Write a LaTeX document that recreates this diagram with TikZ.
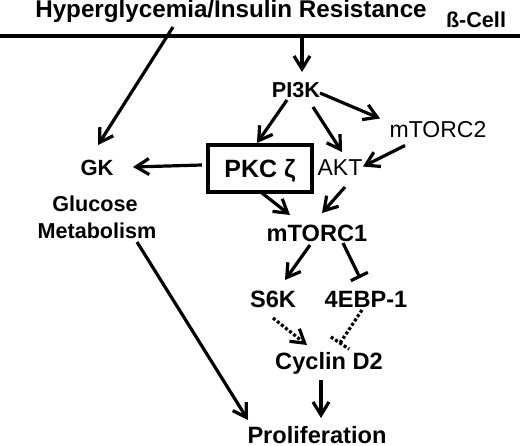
\documentclass[tikz,border=0pt]{standalone}
\usepackage{fontspec}
\setmainfont{Liberation Sans}
\usetikzlibrary{arrows.meta,calc}
\begin{document}
\begin{tikzpicture}[x=1pt,y=-1pt,
  lw/.style={line width=3.2pt},
  tip/.style={-{Straight Barb[length=13pt,width=16pt]}},
  arr/.style={lw,tip},
  inh/.style={lw,-{Bar[width=19pt]}},
  dots/.style={lw,dash pattern=on 3pt off 2.2pt},
  lab/.style={inner sep=0pt,text depth=0pt},
  tt/.style={lab,font=\fontsize{24.2}{24.2}\selectfont\bfseries,text height=17.3pt},
  b21/.style={lab,font=\fontsize{21.6}{21.6}\selectfont\bfseries,text height=15.5pt},
  b22/.style={lab,font=\fontsize{22}{22}\selectfont\bfseries,text height=15.8pt},
  b23/.style={lab,font=\fontsize{23.6}{23.6}\selectfont\bfseries,text height=16.9pt},
  b25/.style={lab,font=\fontsize{25}{25}\selectfont\bfseries,text height=17.5pt},
  r23/.style={lab,font=\fontsize{23}{23}\selectfont,text height=16.5pt},
  boxed/.style={draw,line width=3.5pt,minimum width=104pt,minimum height=47pt}
]
\useasboundingbox (0,0) rectangle (520,445);
\fill[white] (0,0) rectangle (520,445);

% nodes
\node[tt] (title) at (231,8.5) {Hyperglycemia/Insulin Resistance};
\node[b21] (cell) at (476,20) {ß-Cell};
\draw[line width=4.5pt] (0,36) coordinate (mL) -- (520,36) coordinate (mR);
\coordinate (m1) at (302,36);
\node[b21] (pi3k) at (296,89.5) {PI3K};
\node[r23] (mtorc2) at (438,129.5) {mTORC2};
\node[b25,boxed] (pkc) at (260,168.5) {PKC ζ};
\node[r23] (akt) at (340,167.5) {AKT};
\node[b22] (gk) at (97,168) {GK};
\node[b21] (glu) at (95,204) {Glucose};
\node[b21] (met) at (97,231) {Metabolism};
\node[b23] (mtorc1) at (317,233) {mTORC1};
\node[b23] (s6k) at (273,299) {S6K};
\node[b23] (ebp) at (366,299) {4EBP-1};
\node[b23] (cyc) at (329,361) {Cyclin D2};
\node[b23] (pro) at (317,435) {Proliferation};

% connectors
\draw[arr] (m1) -- ([shift={(6,-17.5)}]pi3k.center);
\draw[arr] ([shift={(-58,18.5)}]title.center) -- ([shift={(1,-23)}]gk.center);
\draw[arr] ([shift={(-9,10.5)}]pi3k.center) -- ([shift={(-3,-25.5)}]pkc.center);
\draw[arr] ([shift={(17,17.5)}]pi3k.center) -- ([shift={(2,-15.5)}]akt.center);
\draw[arr] ([shift={(24,3.5)}]pi3k.center) -- ([shift={(-58,-11)}]mtorc2.center);
\draw[arr] ([shift={(-33,16)}]mtorc2.center) -- ([shift={(23,-1)}]akt.center);
\draw[arr] ([shift={(-58,-3.5)}]pkc.center) -- ([shift={(36,-1)}]gk.center);
\draw[arr] ([shift={(2,24.5)}]pkc.center) -- ([shift={(-27,-18)}]mtorc1.center);
\draw[arr] ([shift={(5,19.5)}]akt.center) -- ([shift={(5,-20)}]mtorc1.center);
\draw[arr] ([shift={(-7,12)}]mtorc1.center) -- ([shift={(12,-19)}]s6k.center);
\draw[inh] ([shift={(26,10)}]mtorc1.center) -- ([shift={(-6,-21)}]ebp.center);
\draw[dots,tip] ([shift={(0,19)}]s6k.center) -- ([shift={(-22,-16)}]cyc.center);
\coordinate (d1) at ([shift={(-4,11)}]ebp.center);
\coordinate (d2) at ([shift={(11,-18)}]cyc.center);
\draw[dots] (d1) -- (d2);
\draw[dots] ($(d2)!11pt!90:(d1)$) -- ($(d2)!11pt!-90:(d1)$);
\draw[arr] ([shift={(-8,19)}]cyc.center) -- ([shift={(4,-17)}]pro.center);
\draw[arr] ([shift={(40,11)}]met.center) -- ([shift={(-69,-15)}]pro.center);
\end{tikzpicture}
\end{document}
